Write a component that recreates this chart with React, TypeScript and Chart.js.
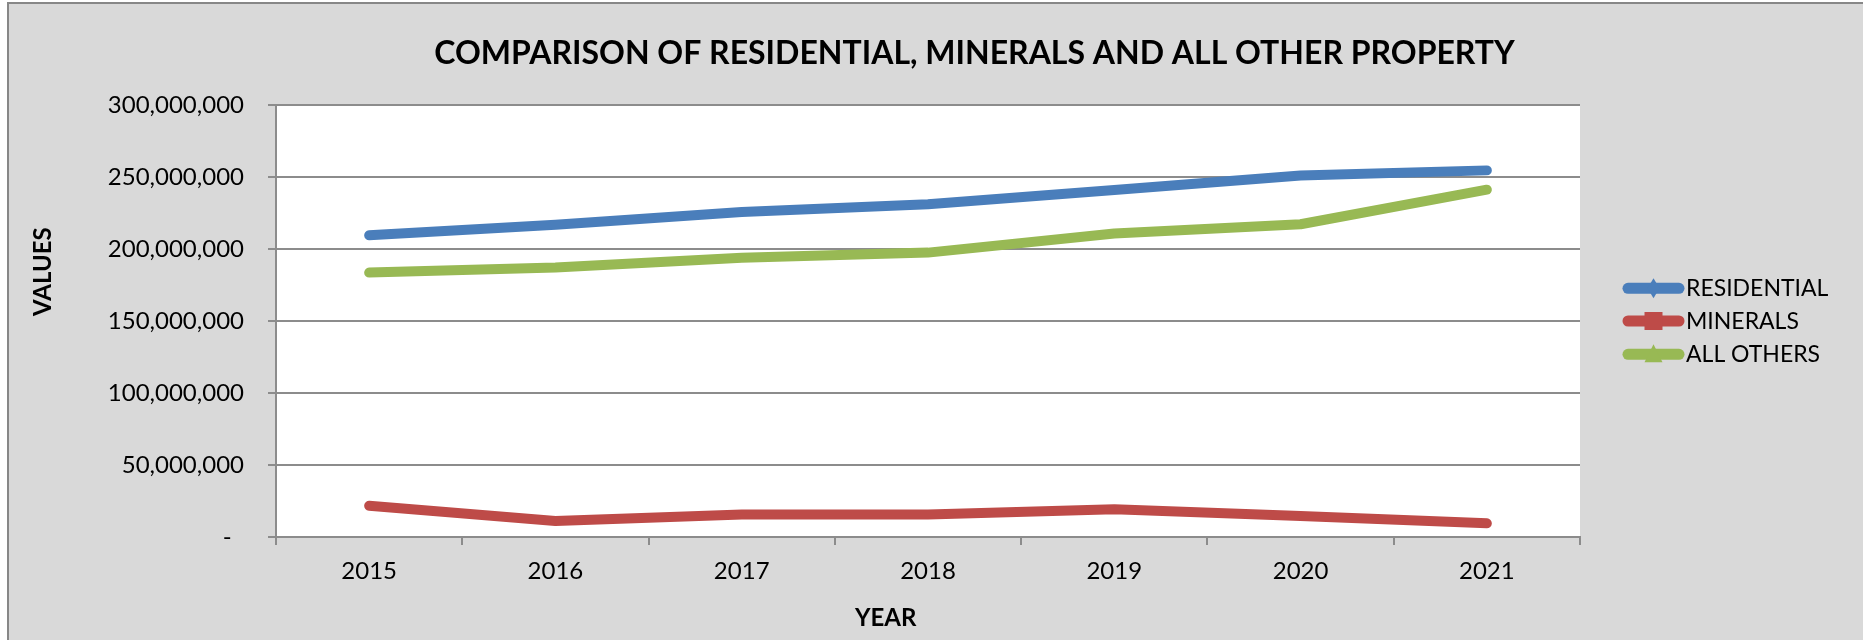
import React, { useEffect, useRef } from "react";
import { Chart, registerables } from "chart.js";

Chart.register(...registerables);

const years = ["2015", "2016", "2017", "2018", "2019", "2020", "2021"];
const residential = [209500000, 216800000, 225700000, 231000000, 241000000, 251000000, 254600000];
const minerals = [21700000, 11100000, 15700000, 15700000, 19200000, 14500000, 9500000];
const allOthers = [183600000, 187100000, 194000000, 197500000, 210800000, 217200000, 241200000];
const seriesNames = ["RESIDENTIAL", "MINERALS", "ALL OTHERS"];
const seriesColors = ["#4A7EBB", "#BE4B48", "#98B954"];
const chartTitle = "COMPARISON OF RESIDENTIAL, MINERALS AND ALL OTHER PROPERTY";
const xTitle = "YEAR";
const yTitle = "VALUES";

const FONT = "Lato, 'Open Sans', sans-serif";
const GRID = "#8C8C8C";

const decorPlugin = {
  id: "decor",
  beforeDraw(chart: any) {
    const ctx = chart.ctx;
    const W = chart.width;
    const H = chart.height;
    ctx.save();
    ctx.fillStyle = "#FFFFFF";
    ctx.fillRect(0, 0, W, H);
    ctx.fillStyle = "#D9D9D9";
    ctx.fillRect(7, 2, W - 7, H - 2);
    ctx.fillStyle = "#878787";
    ctx.fillRect(7, 2, 2, H - 2);
    ctx.fillRect(7, 2, W - 7, 2);
    const a = chart.chartArea;
    ctx.fillStyle = "#FFFFFF";
    ctx.fillRect(a.left, a.top, a.right - a.left, a.bottom - a.top);
    ctx.restore();
  },
  afterDraw(chart: any) {
    const ctx = chart.ctx;
    ctx.save();
    ctx.fillStyle = "#000000";
    // title
    ctx.font = "bold 32px " + FONT;
    ctx.textAlign = "center";
    ctx.textBaseline = "alphabetic";
    ctx.fillText(chartTitle, 974.5, 64);
    // x title
    ctx.font = "bold 24px " + FONT;
    ctx.fillText(xTitle, 885.7, 626);
    // y title
    ctx.save();
    ctx.translate(50.6, 271.7);
    ctx.rotate(-Math.PI / 2);
    ctx.fillText(yTitle, 0, 0);
    ctx.restore();
    // legend
    const rows = [288.3, 321, 354.3];
    const x0 = 1623;
    const x1 = 1684;
    const mx = (x0 + x1) / 2;
    for (let i = 0; i < seriesNames.length; i++) {
      const y = rows[i];
      const c = seriesColors[i];
      ctx.strokeStyle = c;
      ctx.fillStyle = c;
      ctx.lineWidth = 11;
      ctx.lineCap = "round";
      ctx.beginPath();
      ctx.moveTo(x0 + 5, y);
      ctx.lineTo(x1 - 5, y);
      ctx.stroke();
      ctx.beginPath();
      if (i === 0) {
        ctx.moveTo(mx, y - 10);
        ctx.lineTo(mx + 6, y);
        ctx.lineTo(mx, y + 10);
        ctx.lineTo(mx - 6, y);
        ctx.closePath();
      } else if (i === 1) {
        ctx.rect(mx - 9, y - 9, 18, 18);
      } else {
        ctx.moveTo(mx, y - 10);
        ctx.lineTo(mx + 9, y + 8);
        ctx.lineTo(mx - 9, y + 8);
        ctx.closePath();
      }
      ctx.fill();
      ctx.fillStyle = "#000000";
      ctx.font = "23px " + FONT;
      ctx.textAlign = "left";
      ctx.textBaseline = "alphabetic";
      ctx.fillText(seriesNames[i], 1686, y + 8);
    }
    ctx.restore();
  },
};

export default function App() {
  const ref = useRef<HTMLCanvasElement | null>(null);
  useEffect(() => {
    if (!ref.current) return;
    const mk = (label: string, data: number[], color: string) => ({
      label,
      data,
      borderColor: color,
      backgroundColor: color,
      borderWidth: 10,
      borderCapStyle: "round" as const,
      borderJoinStyle: "round" as const,
      pointRadius: 0,
      pointHoverRadius: 0,
      tension: 0,
      fill: false,
    });
    const chart = new Chart(ref.current, {
      type: "line",
      data: {
        labels: years,
        datasets: [
          mk(seriesNames[0], residential, seriesColors[0]),
          mk(seriesNames[1], minerals, seriesColors[1]),
          mk(seriesNames[2], allOthers, seriesColors[2]),
        ],
      },
      options: {
        animation: false,
        responsive: false,
        devicePixelRatio: 1,
        layout: { padding: { left: 0, top: 105, right: 283, bottom: 0 } },
        plugins: {
          legend: { display: false },
          title: { display: false },
          tooltip: { enabled: false },
        },
        scales: {
          x: {
            type: "category",
            offset: true,
            afterFit: (s: any) => {
              s.height = 103;
            },
            grid: {
              display: true,
              offset: true,
              drawOnChartArea: false,
              drawTicks: true,
              tickLength: 8,
              color: GRID,
              lineWidth: 2,
            },
            border: { display: true, color: GRID, width: 2 },
            ticks: {
              color: "#000000",
              font: { family: FONT, size: 24 },
              padding: 12,
              maxRotation: 0,
              autoSkip: false,
            },
          },
          y: {
            min: 0,
            max: 300000000,
            afterFit: (s: any) => {
              s.width = 276;
            },
            grid: {
              color: GRID,
              lineWidth: 2,
              drawTicks: true,
              tickLength: 8,
            },
            border: { display: true, color: GRID, width: 2 },
            ticks: {
              stepSize: 50000000,
              color: "#000000",
              font: { family: FONT, size: 24 },
              padding: 24,
              callback: (v: any) => (Number(v) === 0 ? "-  " : Number(v).toLocaleString("en-US")),
            },
          },
        },
      },
      plugins: [decorPlugin],
    });
    return () => chart.destroy();
  }, []);
  return (
    <div style={{ position: "fixed", left: 0, top: 0, width: 1863, height: 640, overflow: "hidden" }}>
      <canvas ref={ref} width={1863} height={640} style={{ display: "block", width: 1863, height: 640 }} />
    </div>
  );
}
